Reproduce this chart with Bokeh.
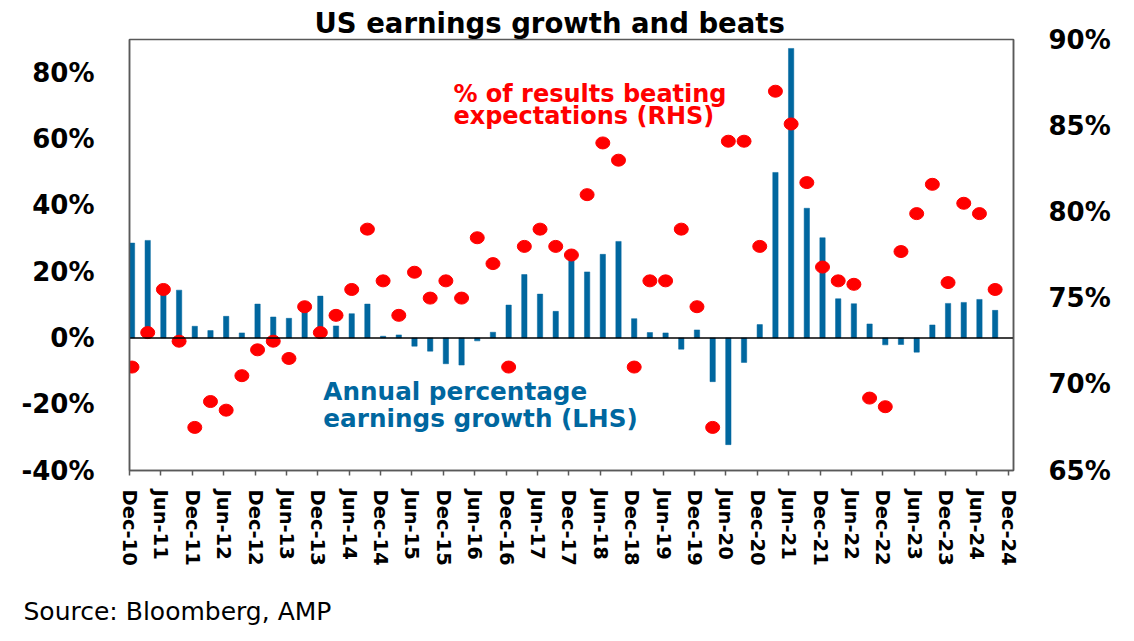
from bokeh.plotting import figure
from bokeh.layouts import column
from bokeh.models import Range1d, LinearAxis, FixedTicker, Span, ColumnDataSource
from bokeh.embed import file_html
from bokeh.resources import INLINE
from bokeh.core.properties import value

# ---------------- data ----------------
tick_labels = ["Dec-10", "Jun-11", "Dec-11", "Jun-12", "Dec-12", "Jun-13", "Dec-13",
               "Jun-14", "Dec-14", "Jun-15", "Dec-15", "Jun-16", "Dec-16", "Jun-17",
               "Dec-17", "Jun-18", "Dec-18", "Jun-19", "Dec-19", "Jun-20", "Dec-20",
               "Jun-21", "Dec-21", "Jun-22", "Dec-22", "Jun-23", "Dec-23", "Jun-24",
               "Dec-24"]

# quarterly, Dec-10 .. Sep-24
growth = [28.6, 29.4, 14.5, 14.4, 3.5, 2.2, 6.5, 1.5, 10.2, 6.3, 5.9, 8.5, 12.6, 3.6,
          7.3, 10.2, 0.5, 0.9, -2.5, -4.0, -7.8, -8.2, -0.9, 1.7, 9.9, 19.1, 13.2, 8.0,
          24.0, 19.9, 25.2, 29.1, 5.8, 1.6, 1.5, -3.4, 2.4, -13.2, -32.2, -7.4, 4.0,
          49.9, 87.3, 39.1, 30.2, 11.8, 10.3, 4.2, -2.1, -2.0, -4.3, 3.9, 10.4, 10.7,
          11.6, 8.3]

beats = [71.0, 73.0, 75.5, 72.5, 67.5, 69.0, 68.5, 70.5, 72.0, 72.5, 71.5, 74.5, 73.0,
         74.0, 75.5, 79.0, 76.0, 74.0, 76.5, 75.0, 76.0, 75.0, 78.5, 77.0, 71.0, 78.0,
         79.0, 78.0, 77.5, 81.0, 84.0, 83.0, 71.0, 76.0, 76.0, 79.0, 74.5, 67.5, 84.1,
         84.1, 78.0, 87.0, 85.1, 81.7, 76.8, 76.0, 75.8, 69.2, 68.7, 77.7, 79.9, 81.6,
         75.9, 80.5, 79.9, 75.5]

left_ticks = [-40, -20, 0, 20, 40, 60, 80]
right_ticks = [65, 70, 75, 80, 85, 90]

title_text = "US earnings growth and beats"
red_note = ["% of results beating", "expectations (RHS)"]
blue_note = ["Annual percentage", "earnings growth (LHS)"]
source_text = "Source: Bloomberg, AMP"

# ---------------- style ----------------
FONT = "DejaVu Sans"
BLUE = "#00679F"
RED = "#FF0000"
GREY = "#595959"
W = 1126

n = len(growth)
xs = [i + 0.16 for i in range(n)]
src = ColumnDataSource(dict(x=xs, growth=growth, beats=beats))

p = figure(width=W, height=594, output_backend="svg", toolbar_location=None,
           x_range=Range1d(0, 56.33), y_range=Range1d(-40, 90),
           min_border_left=129, min_border_right=113, min_border_top=39,
           min_border_bottom=124, background_fill_color="white",
           border_fill_color="white")
p.extra_y_ranges = {"rhs": Range1d(65, 90)}

p.title.text = title_text
p.title.text_font = FONT
p.title.text_font_style = "bold"
p.title.text_font_size = "27.5px"
p.title.text_color = "black"
p.title.align = "left"
p.title.offset = 185
p.title.standoff = 2

p.xgrid.visible = False
p.ygrid.visible = False
p.outline_line_color = GREY
p.outline_line_width = 1.5

# x axis
xa = p.xaxis[0]
xa.ticker = FixedTicker(ticks=[2 * k for k in range(len(tick_labels))])
xa.major_label_overrides = {2 * k: lab for k, lab in enumerate(tick_labels)}
xa.major_label_orientation = "vertical"
xa.major_label_text_font = FONT
xa.major_label_text_font_style = "bold"
xa.major_label_text_font_size = "19.5px"
xa.major_label_text_color = "black"
xa.major_label_standoff = 14
xa.major_tick_out = 5
xa.major_tick_in = 0
xa.minor_tick_line_color = None
xa.axis_line_color = GREY
xa.axis_line_width = 1.5
xa.major_tick_line_color = GREY
xa.major_tick_line_width = 1.5

# left axis
ya = p.yaxis[0]
ya.ticker = FixedTicker(ticks=left_ticks)
ya.major_label_overrides = {v: f"{v}%" for v in left_ticks}
ya.major_label_text_font = FONT
ya.major_label_text_font_style = "bold"
ya.major_label_text_font_size = "26px"
ya.major_label_text_color = "black"
ya.major_label_standoff = 29
ya.major_tick_line_color = None
ya.minor_tick_line_color = None
ya.axis_line_color = GREY
ya.axis_line_width = 1.5

# right axis
ra = LinearAxis(y_range_name="rhs", ticker=FixedTicker(ticks=right_ticks))
ra.major_label_overrides = {v: f"{v}%" for v in right_ticks}
ra.major_label_text_font = FONT
ra.major_label_text_font_style = "bold"
ra.major_label_text_font_size = "26px"
ra.major_label_text_color = "black"
ra.major_label_standoff = 29
ra.major_tick_line_color = None
ra.minor_tick_line_color = None
ra.axis_line_color = GREY
ra.axis_line_width = 1.5
p.add_layout(ra, "right")

# bars
p.vbar(x="x", top="growth", bottom=0, width=0.34, fill_color=BLUE, line_color=BLUE,
       line_width=0.5, source=src)

zero = Span(location=0, dimension="width", line_color="black", line_width=1.5,
            level="glyph")
p.add_layout(zero)

# dots
p.ellipse(x="x", y="beats", width=14, height=12, width_units="screen",
          height_units="screen", fill_color=RED, line_color=RED, y_range_name="rhs",
          source=src)

# annotations
p.text(x=[20.64, 20.64], y=[73.6, 66.8], text=red_note, text_font=value(FONT),
       text_font_style="bold", text_font_size="24px", text_color=RED,
       text_baseline="alphabetic", text_align="left")
p.text(x=[12.35, 12.35], y=[-16.2, -24.2], text=blue_note, text_font=value(FONT),
       text_font_style="bold", text_font_size="24.7px", text_color=BLUE,
       text_baseline="alphabetic", text_align="left")

# source strip below the chart (text carried by this strip's title)
p2 = figure(width=W, height=36, output_backend="svg", toolbar_location=None,
            title=source_text, x_axis_location=None, y_axis_location=None,
            min_border_left=129, min_border_right=113, min_border_top=0,
            min_border_bottom=0, background_fill_color="white",
            border_fill_color="white")
p2.outline_line_color = None
p2.xgrid.visible = False
p2.ygrid.visible = False
p2.title.text_font = FONT
p2.title.text_font_style = "normal"
p2.title.text_font_size = "25px"
p2.title.text_color = "black"
p2.title.align = "left"
p2.title.offset = -106
p2.title.standoff = 0

layout = column(p, p2, spacing=0)
open("out.html", "w").write(file_html(layout, INLINE))
